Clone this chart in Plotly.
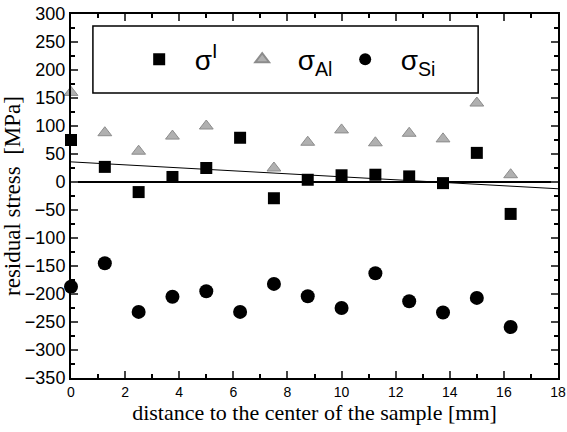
import numpy as np
import plotly.graph_objects as go

x_pos = [0, 1.25, 2.5, 3.75, 5, 6.25, 7.5, 8.75, 10, 11.25, 12.5, 13.75, 15, 16.25]
sigma_I = [75, 27, -18, 9, 25, 79, -29, 4, 12, 13, 10, -2, 52, -57]
x_al = [0, 1.25, 2.5, 3.75, 5, 7.5, 8.75, 10, 11.25, 12.5, 13.75, 15, 16.25]
sigma_Al = [160, 88, 55, 82, 100, 25, 71, 93, 70, 87, 77, 141, 13]
sigma_Si = [-187, -145, -232, -205, -195, -232, -182, -204, -225, -163, -213, -233, -207, -259]

x_ticks = [0, 2, 4, 6, 8, 10, 12, 14, 16, 18]
y_ticks = list(range(-350, 301, 50))

slope, intercept = np.polyfit(x_pos, sigma_I, 1)
fit_x = [0, 18]
fit_y = [intercept + slope * v for v in fit_x]

tick_font = "Liberation Sans, Arial"
serif = "Liberation Serif, Times New Roman, serif"
sp = "\u00a0"

fig = go.Figure()
fig.add_trace(go.Scatter(x=fit_x, y=fit_y, mode="lines", line=dict(color="black", width=1),
                         showlegend=False, hoverinfo="skip"))
fig.add_trace(go.Scatter(x=x_pos, y=sigma_I, mode="markers", name=sp * 2 + "σ<sup>I</sup>",
                         marker=dict(symbol="square", size=12, color="black"), cliponaxis=False))
fig.add_trace(go.Scatter(x=x_al, y=sigma_Al, mode="markers", name=sp * 2 + "σ<sub>Al</sub>",
                         marker=dict(symbol="triangle-up", size=12, color="#b0b0b0",
                                     line=dict(color="#8c8c8c", width=1)), cliponaxis=False))
fig.add_trace(go.Scatter(x=x_pos, y=sigma_Si, mode="markers", name=sp * 2 + "σ<sub>Si</sub>",
                         marker=dict(symbol="circle", size=14, color="black"), cliponaxis=False))

fig.update_layout(
    width=567, height=432,
    margin=dict(l=71, r=9, t=14, b=54),
    paper_bgcolor="white", plot_bgcolor="white",
    showlegend=True,
    legend=dict(orientation="h", x=0.14, xanchor="left", y=0.875, yanchor="middle",
                bgcolor="rgba(0,0,0,0)", borderwidth=0,
                font=dict(family="Liberation Sans, Arial", size=28, color="black"),
                entrywidth=58, entrywidthmode="pixels", itemsizing="constant"),
    shapes=[dict(type="rect", xref="paper", yref="paper", x0=0.045, x1=0.836, y0=0.783, y1=0.967,
                 line=dict(color="black", width=1.5), fillcolor="rgba(0,0,0,0)", layer="below")],
)
fig.update_xaxes(range=[0, 18], tickvals=x_ticks, ticks="inside", ticklen=7, tickwidth=1.5,
                 showline=True, linecolor="black", linewidth=2, mirror="allticks",
                 showgrid=False, zeroline=False, automargin=False,
                 tickfont=dict(family=tick_font, size=14, color="black"),
                 minor=dict(ticks="inside", dtick=1, ticklen=4, tickwidth=1.5, tickcolor="black"),
                 title=dict(text="distance to the center of the sample [mm]", standoff=0,
                            font=dict(family=serif, size=22, color="black")))
fig.update_yaxes(range=[-350, 300], tickvals=y_ticks, ticks="inside", ticklen=7, tickwidth=1.5,
                 showline=True, linecolor="black", linewidth=2, mirror="allticks",
                 showgrid=False, zeroline=True, zerolinecolor="black", zerolinewidth=2,
                 automargin=False,
                 tickfont=dict(family=tick_font, size=18, color="black"),
                 minor=dict(ticks="inside", dtick=25, ticklen=4, tickwidth=1.5, tickcolor="black"),
                 title=dict(text="residual stress  [MPa]",
                            font=dict(family=serif, size=23, color="black")))

fig.write_html("out.html", config={"displayModeBar": False},
               post_script="document.body.style.margin='0px';")
